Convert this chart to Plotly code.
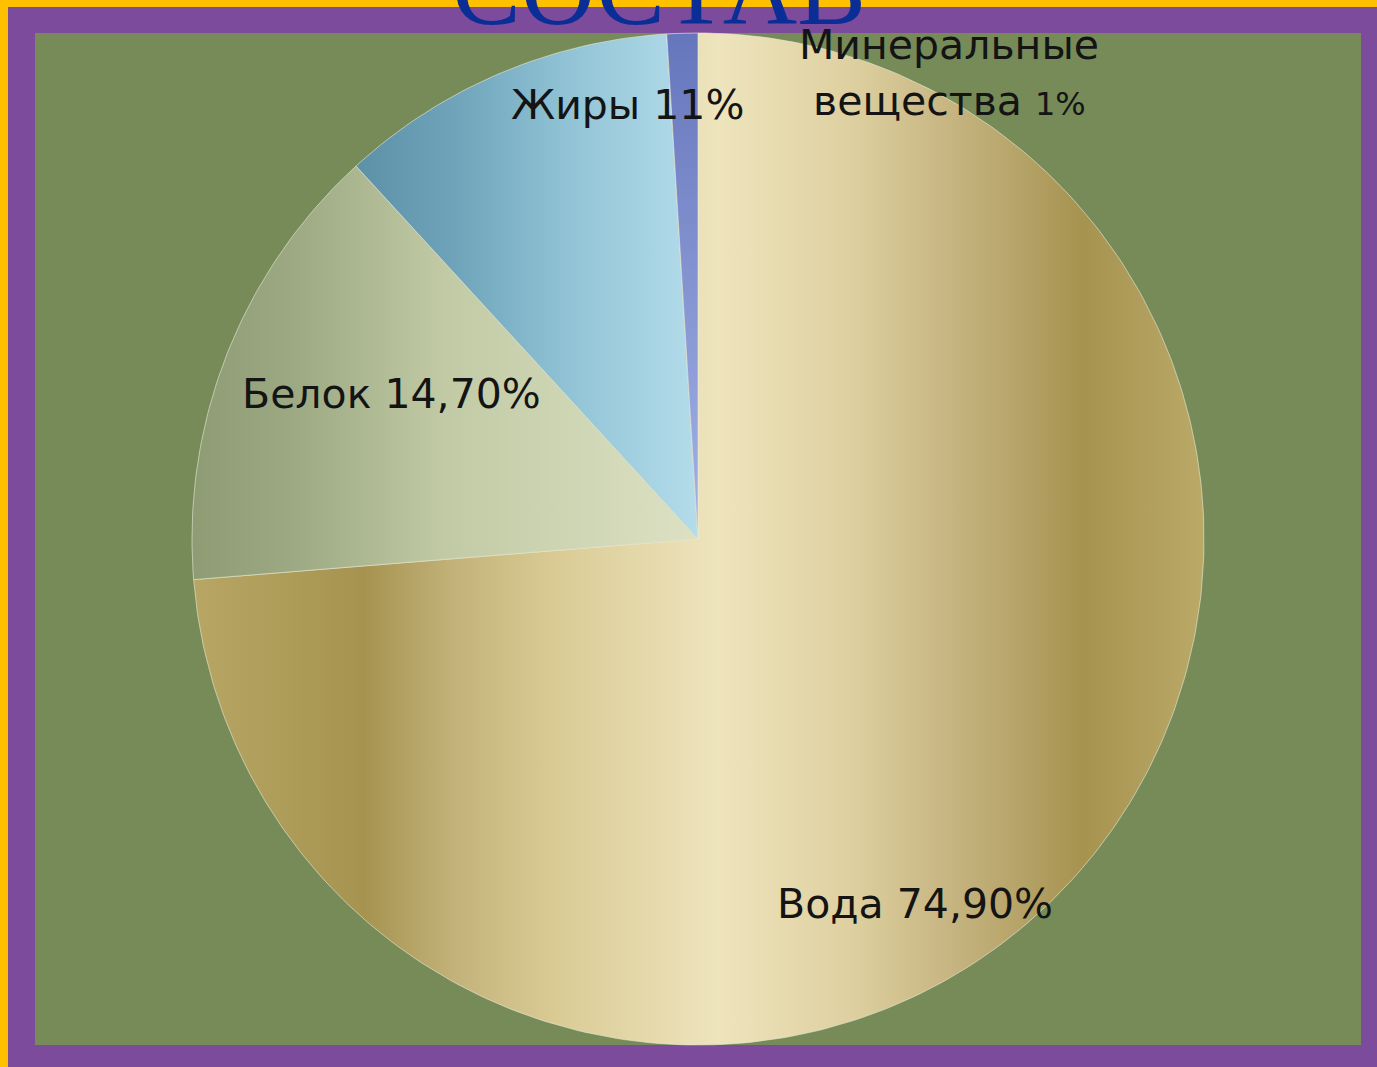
import numpy as np
import plotly.graph_objects as go

# ---- data ----
categories = ["Вода", "Белок", "Жиры", "Минеральные вещества"]
values = [74.9, 14.7, 11.0, 1.0]
label_texts = ["Вода 74,90%", "Белок 14,70%", "Жиры 11%", "Минеральные",
               "вещества <span style='font-size:32px'>1%</span>"]
title_text = "СОСТАВ"

# ---- styles ----
W, H = 1377, 1067
CX, CY, R = 698, 539, 506
gradients = [
    dict(type="horizontal", start=CX - R, stop=CX + R,
         colorscale=[[0.0, "#B7A664"], [0.17, "#A69350"], [0.26, "#C3B37A"],
                     [0.36, "#DACB95"], [0.52, "#EEE4BD"], [0.65, "#DED0A0"],
                     [0.76, "#C4B27E"], [0.88, "#A69350"], [1.0, "#BBA968"]]),
    dict(type="horizontal", start=CX - R, stop=CX,
         colorscale=[[0.0, "#8E9C74"], [0.2, "#9CA983"], [0.5, "#C1CAA5"],
                     [1.0, "#DCE1C3"]]),
    dict(type="horizontal", start=348, stop=CX,
         colorscale=[[0.0, "#5A8FA6"], [0.3, "#6EA3B9"], [0.65, "#93C5D7"],
                     [1.0, "#B4DCEA"]]),
    dict(type="vertical", start=CY - R, stop=CY,
         colorscale=[[0.0, "#6676BC"], [1.0, "#A3B2E6"]]),
]
label_pos = [(915, 904), (391, 394), (627, 105), (949, 45), (949, 101)]

fig = go.Figure()

total = sum(values)
cum = 0.0
for cat, v, grad in zip(categories, values, gradients):
    t0 = cum / total * 2 * np.pi
    t1 = (cum + v) / total * 2 * np.pi
    cum += v
    t = np.linspace(t0, t1, max(4, int(400 * v / total)))
    xs = np.concatenate([[CX], CX + R * np.sin(t), [CX]])
    ys = np.concatenate([[CY], CY - R * np.cos(t), [CY]])
    fig.add_trace(go.Scatter(
        x=xs, y=ys, mode="lines", fill="toself",
        line=dict(width=1, color="rgba(235,235,215,0.6)"),
        fillgradient=grad, name=cat, hoverinfo="name", showlegend=False))

for txt, (lx, ly) in zip(label_texts, label_pos):
    fig.add_annotation(x=lx, y=ly, xref="x", yref="y", text=txt, showarrow=False,
                       xanchor="center", yanchor="middle",
                       font=dict(family="DejaVu Sans", size=41, color="#141414"))

fig.add_annotation(x=659 / W, y=1 + 11 / H, xref="paper", yref="paper", text=title_text,
                   showarrow=False, xanchor="center", yanchor="middle",
                   font=dict(family="Liberation Serif", size=103, color="#0B2D96"))

shapes = [
    dict(type="rect", xref="paper", yref="paper", x0=8 / W, x1=1.02, y0=-0.02, y1=1 - 7 / H,
         fillcolor="#7D4B9B", line=dict(width=0), layer="below"),
    dict(type="rect", xref="paper", yref="paper", x0=35 / W, x1=1361 / W,
         y0=1 - 1045 / H, y1=1 - 33 / H,
         fillcolor="#778B59", line=dict(width=0), layer="below"),
]

fig.update_layout(
    width=W, height=H, margin=dict(l=0, r=0, t=0, b=0),
    paper_bgcolor="#FFC000", plot_bgcolor="rgba(0,0,0,0)",
    shapes=shapes,
    xaxis=dict(range=[0, W], visible=False, fixedrange=True),
    yaxis=dict(range=[H, 0], visible=False, fixedrange=True),
    showlegend=False,
)

fig.write_html("out.html", config={"displayModeBar": False},
               post_script="document.body.style.margin='0';"
                           "document.body.style.background='#FFC000';")
